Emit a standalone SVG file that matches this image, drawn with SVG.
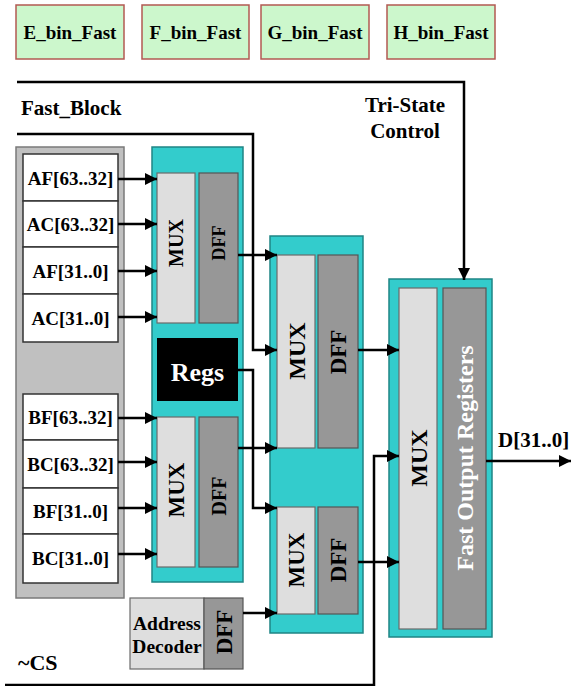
<svg xmlns="http://www.w3.org/2000/svg" width="571" height="686" viewBox="0 0 571 686">
<defs>
<style>
text{font-family:"Liberation Serif","Times New Roman",serif;font-weight:bold;fill:#000}
.bin{fill:#ccf7cc;stroke:#b25a52;stroke-width:1.5}
.panel{fill:#c0c0c0;stroke:#7a7a7a;stroke-width:1.5}
.reg{fill:#fff;stroke:#333;stroke-width:1.5}
.cyan{fill:#33cccc;stroke:#1f8585;stroke-width:1.5}
.mux{fill:#dedede;stroke:#6a6a6a;stroke-width:1.2}
.dff{fill:#979797;stroke:#555;stroke-width:1.2}
.wire{fill:none;stroke:#000;stroke-width:2.5}
.mid{text-anchor:middle}
</style>
<marker id="ah" viewBox="0 0 10 10" refX="10" refY="5" markerUnits="userSpaceOnUse" markerWidth="15" markerHeight="12" orient="auto">
<path d="M0,0 L10,5 L0,10 z" fill="#000"/>
</marker>
</defs>
<rect width="571" height="686" fill="#fff"/>

<g id="E_bin_Fast"><rect class="bin" x="16" y="5" width="108" height="54"/><text class="mid" x="70" y="39" font-size="19">E_bin_Fast</text></g>
<g id="F_bin_Fast"><rect class="bin" x="142" y="5" width="107" height="54"/><text class="mid" x="195.5" y="39" font-size="19">F_bin_Fast</text></g>
<g id="G_bin_Fast"><rect class="bin" x="261" y="5" width="108" height="54"/><text class="mid" x="315" y="39" font-size="19">G_bin_Fast</text></g>
<g id="H_bin_Fast"><rect class="bin" x="387" y="5" width="108" height="54"/><text class="mid" x="441" y="39" font-size="19">H_bin_Fast</text></g>

<g id="labels">
<text x="21" y="115" font-size="21">Fast_Block</text>
<text class="mid" x="405" y="112" font-size="21">Tri-State</text>
<text class="mid" x="405" y="138" font-size="21">Control</text>
<text x="18" y="670" font-size="22">~CS</text>
<text x="498" y="447" font-size="21">D[31..0]</text>
</g>

<g id="input_panel">
<rect class="panel" x="16" y="147" width="108" height="451"/>
</g>
<g id="AF_63_32"><rect class="reg" x="23" y="154" width="95" height="47"/><text class="mid" x="70.5" y="185" font-size="19">AF[63..32]</text></g>
<g id="AC_63_32"><rect class="reg" x="23" y="201" width="95" height="46"/><text class="mid" x="70.5" y="231" font-size="19">AC[63..32]</text></g>
<g id="AF_31_0"><rect class="reg" x="23" y="247" width="95" height="47"/><text class="mid" x="70.5" y="278" font-size="19">AF[31..0]</text></g>
<g id="AC_31_0"><rect class="reg" x="23" y="294" width="95" height="48"/><text class="mid" x="70.5" y="325" font-size="19">AC[31..0]</text></g>
<g id="BF_63_32"><rect class="reg" x="23" y="394" width="95" height="46"/><text class="mid" x="70.5" y="424" font-size="19">BF[63..32]</text></g>
<g id="BC_63_32"><rect class="reg" x="23" y="440" width="95" height="48"/><text class="mid" x="70.5" y="471" font-size="19">BC[63..32]</text></g>
<g id="BF_31_0"><rect class="reg" x="23" y="488" width="95" height="46"/><text class="mid" x="70.5" y="518" font-size="19">BF[31..0]</text></g>
<g id="BC_31_0"><rect class="reg" x="23" y="534" width="95" height="49"/><text class="mid" x="70.5" y="565" font-size="19">BC[31..0]</text></g>

<g id="stage1">
<rect class="cyan" x="152" y="147" width="91" height="435"/>
</g>
<g id="mux1a"><rect class="mux" x="157" y="173" width="38" height="150"/><text class="mid" transform="translate(176,243) rotate(-90)" y="7" font-size="20">MUX</text></g>
<g id="dff1a"><rect class="dff" x="199" y="173" width="39" height="150"/><text class="mid" transform="translate(218.5,243) rotate(-90)" y="6.5" font-size="18">DFF</text></g>
<g id="regs"><rect x="157" y="338" width="81" height="63" fill="#000"/><text class="mid" x="197.5" y="381" font-size="26" style="fill:#fff">Regs</text></g>
<g id="mux1b"><rect class="mux" x="157" y="417" width="38" height="150"/><text class="mid" transform="translate(176,490) rotate(-90)" y="8" font-size="23">MUX</text></g>
<g id="dff1b"><rect class="dff" x="199" y="417" width="39" height="150"/><text class="mid" transform="translate(218.5,496) rotate(-90)" y="7" font-size="20">DFF</text></g>

<g id="address_decoder"><rect class="mux" x="130" y="598" width="74" height="71"/><text class="mid" x="167" y="630" font-size="19.5">Address</text><text class="mid" x="167" y="653" font-size="19.5">Decoder</text></g>
<g id="dff_addr"><rect class="dff" x="204" y="598" width="39" height="71"/><text class="mid" transform="translate(223.5,632) rotate(-90)" y="8" font-size="23">DFF</text></g>

<g id="stage2">
<rect class="cyan" x="270" y="236" width="93" height="397"/>
</g>
<g id="mux2a"><rect class="mux" x="277" y="255" width="38" height="193"/><text class="mid" transform="translate(296,351) rotate(-90)" y="8.5" font-size="24">MUX</text></g>
<g id="dff2a"><rect class="dff" x="318" y="255" width="40" height="193"/><text class="mid" transform="translate(338,352) rotate(-90)" y="8" font-size="23">DFF</text></g>
<g id="mux2b"><rect class="mux" x="277" y="507" width="38" height="107"/><text class="mid" transform="translate(296,560) rotate(-90)" y="8" font-size="23">MUX</text></g>
<g id="dff2b"><rect class="dff" x="318" y="507" width="40" height="107"/><text class="mid" transform="translate(338,560) rotate(-90)" y="8" font-size="23">DFF</text></g>

<g id="stage3">
<rect class="cyan" x="389" y="279" width="103" height="358"/>
</g>
<g id="mux3"><rect class="mux" x="399" y="288" width="38" height="341"/><text class="mid" transform="translate(418,458) rotate(-90)" y="8.5" font-size="24">MUX</text></g>
<g id="fast_output_registers"><rect class="dff" x="443" y="288" width="43" height="341"/><text class="mid" transform="translate(464.5,458) rotate(-90)" y="8.5" font-size="24" style="fill:#fff">Fast Output Registers</text></g>

<g id="connectors">
<path class="wire" d="M118,179 H157" marker-end="url(#ah)"/>
<path class="wire" d="M118,224 H157" marker-end="url(#ah)"/>
<path class="wire" d="M118,271 H157" marker-end="url(#ah)"/>
<path class="wire" d="M118,317 H157" marker-end="url(#ah)"/>
<path class="wire" d="M118,418 H157" marker-end="url(#ah)"/>
<path class="wire" d="M118,462 H157" marker-end="url(#ah)"/>
<path class="wire" d="M118,508 H157" marker-end="url(#ah)"/>
<path class="wire" d="M118,554 H157" marker-end="url(#ah)"/>
<path class="wire" d="M238,255 H277" marker-end="url(#ah)"/>
<path class="wire" d="M17,134 H253 V350 H277" marker-end="url(#ah)"/>
<path class="wire" d="M238,370 H253 V508 H277" marker-end="url(#ah)"/>
<path class="wire" d="M238,448 H277" marker-end="url(#ah)"/>
<path class="wire" d="M243,613 H277" marker-end="url(#ah)"/>
<path class="wire" d="M358,350 H399" marker-end="url(#ah)"/>
<path class="wire" d="M358,562 H399" marker-end="url(#ah)"/>
<path class="wire" d="M5,685 H374 V456 H399" marker-end="url(#ah)"/>
<path class="wire" d="M17,82 H464 V280" marker-end="url(#ah)"/>
<path class="wire" d="M486,461 H571" marker-end="url(#ah)"/>
</g>
</svg>
